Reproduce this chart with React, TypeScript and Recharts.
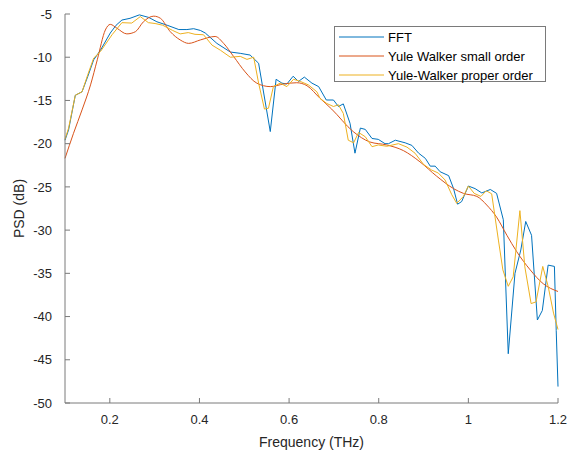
import React from "react";
import {
  LineChart, Line, XAxis, YAxis, Legend, Label,
} from "recharts";

// frequency (THz) / PSD (dB) pairs
const fftFreq = [
  0.1, 0.108, 0.123, 0.138, 0.151, 0.164, 0.179, 0.201, 0.214, 0.227, 0.245, 0.266, 0.287,
  0.305, 0.328, 0.354, 0.372, 0.387, 0.402, 0.413, 0.439, 0.469, 0.491, 0.513, 0.532, 0.558,
  0.571, 0.584, 0.595, 0.609, 0.621, 0.634, 0.651, 0.666, 0.683, 0.699, 0.71, 0.721, 0.736,
  0.747, 0.759, 0.77, 0.785, 0.799, 0.814, 0.822, 0.837, 0.859, 0.874, 0.889, 0.904, 0.915,
  0.926, 0.937, 0.956, 0.967, 0.976, 0.985, 1.0, 1.015, 1.03, 1.049, 1.063, 1.078, 1.089,
  1.104, 1.117, 1.128, 1.141, 1.154, 1.165, 1.178, 1.192, 1.196, 1.2,
];
const fftPsd = [
  -19.6, -18.4, -14.4, -14.0, -12.2, -10.3, -9.2, -7.2, -6.3, -5.7, -5.5, -5.1, -5.4,
  -5.9, -6.3, -6.8, -6.8, -6.7, -6.9, -7.2, -8.4, -9.4, -9.55, -9.75, -10.7, -18.6,
  -12.55, -13.0, -13.1, -12.2, -12.8, -12.3, -13.0, -13.4, -14.95, -14.95, -15.7, -15.4, -17.65,
  -21.1, -18.2, -18.35, -19.4, -19.5, -20.0, -20.0, -19.6, -19.9, -20.2, -21.1, -21.7, -22.6,
  -22.6, -23.25, -23.7, -25.2, -27.0, -26.7, -24.9, -25.2, -25.7, -25.3, -25.75, -28.8, -44.3,
  -35.0, -32.3, -29.0, -30.6, -40.4, -39.3, -34.05, -34.2, -41.6, -48.1,
];

const ywSmallFreq = [
  0.1, 0.119, 0.138, 0.157, 0.172, 0.19, 0.201, 0.216, 0.238, 0.257, 0.275, 0.298, 0.313,
  0.335, 0.357, 0.376, 0.402, 0.435, 0.454, 0.476, 0.502, 0.528, 0.558, 0.588, 0.617, 0.64,
  0.669, 0.695, 0.743, 0.78, 0.818, 0.855, 0.892, 0.929, 0.967, 0.989, 1.019, 1.041, 1.063,
  1.086, 1.108, 1.138, 1.167, 1.2,
];
const ywSmallPsd = [
  -21.7, -18.8, -16.1, -13.2, -10.3, -6.85, -6.2, -6.65, -7.3, -7.05, -5.9, -5.25, -5.5,
  -7.05, -8.0, -8.4, -8.0, -7.6, -8.4, -9.9, -11.7, -13.0, -13.4, -13.1, -12.95, -13.3,
  -14.75, -16.0, -18.6, -19.8, -20.15, -20.8, -22.1, -23.75, -25.2, -25.75, -26.1, -27.1, -28.5,
  -30.6, -32.5, -34.6, -36.2, -37.1,
];

const ywProperFreq = [
  0.1, 0.108, 0.123, 0.138, 0.151, 0.164, 0.179, 0.205, 0.227, 0.249, 0.268, 0.286, 0.301,
  0.318, 0.34, 0.357, 0.375, 0.39, 0.409, 0.428, 0.447, 0.469, 0.491, 0.506, 0.521, 0.532,
  0.545, 0.554, 0.565, 0.58, 0.595, 0.61, 0.625, 0.643, 0.662, 0.669, 0.684, 0.699, 0.71,
  0.721, 0.732, 0.744, 0.755, 0.77, 0.785, 0.799, 0.818, 0.844, 0.863, 0.881, 0.9, 0.918,
  0.933, 0.948, 0.963, 0.974, 0.989, 1.0, 1.013, 1.028, 1.04, 1.052, 1.067, 1.077, 1.089,
  1.1, 1.115, 1.126, 1.14, 1.151, 1.166, 1.178, 1.19, 1.2,
];
const ywProperPsd = [
  -19.5, -18.2, -14.4, -14.0, -12.0, -10.1, -9.35, -7.4, -6.0, -6.05, -5.3, -6.0, -6.1,
  -6.3, -6.9, -7.3, -7.15, -7.35, -7.4, -8.6, -9.2, -10.0, -9.9, -10.25, -10.0, -13.0,
  -16.0, -15.9, -13.4, -13.0, -13.4, -12.55, -12.8, -13.2, -14.0, -14.75, -15.35, -15.7, -15.5,
  -16.5, -19.6, -19.9, -18.7, -19.2, -20.35, -20.15, -20.3, -20.0, -20.4, -21.1, -22.4, -23.05,
  -23.4, -24.2, -25.9, -26.9, -26.1, -24.9, -25.75, -26.1, -25.45, -25.8, -31.15, -34.6, -36.5,
  -35.4, -27.75, -34.25, -38.5, -38.3, -34.2, -36.5, -39.6, -41.5,
];

const xTicks = [0.2, 0.4, 0.6, 0.8, 1, 1.2];
const yTicks = [-50, -45, -40, -35, -30, -25, -20, -15, -10, -5];

const toPoints = (f: number[], p: number[]) => f.map((x, i) => ({ f: x, psd: p[i] }));

const fftData = toPoints(fftFreq, fftPsd);
const ywSmallData = toPoints(ywSmallFreq, ywSmallPsd);
const ywProperData = toPoints(ywProperFreq, ywProperPsd);

const SERIES = [
  { name: "FFT", data: fftData, color: "#0072BD", type: "linear" as const },
  { name: "Yule Walker small order", data: ywSmallData, color: "#D95319", type: "monotone" as const },
  { name: "Yule-Walker proper order", data: ywProperData, color: "#EDB120", type: "linear" as const },
];

const AXIS = "#7a7a7a";
const TEXT = "#262626";
const FONT = "Arial, 'Liberation Sans', sans-serif";

function LegendBox() {
  return (
    <div
      style={{
        width: 210, height: 54, border: `1px solid ${AXIS}`, background: "#fff",
        fontFamily: FONT, fontSize: 13, color: "#000", boxSizing: "content-box",
      }}
    >
      {SERIES.map((s, i) => (
        <div key={s.name} style={{ position: "absolute", left: 0, top: 3 + i * 19, height: 16, display: "flex", alignItems: "center" }}>
          <svg width={54} height={16}>
            <line x1={5} x2={50} y1={8} y2={8} stroke={s.color} strokeWidth={1} />
          </svg>
          <span style={{ whiteSpace: "nowrap" }}>{s.name}</span>
        </div>
      ))}
    </div>
  );
}

export default function App() {
  const tickStyle = { fontSize: 13, fill: TEXT, fontFamily: FONT };
  return (
    <div style={{ position: "absolute", left: 0, top: 0, background: "#fff" }}>
      <LineChart
        width={569}
        height={452}
        margin={{ top: 14, right: 11, bottom: 0, left: 0 }}
        style={{ fontFamily: FONT }}
      >
        <XAxis
          dataKey="f" type="number" domain={[0.1, 1.2]} ticks={xTicks} allowDuplicatedCategory={false}
          height={49} stroke={AXIS} tickSize={-5} tickMargin={17} tick={tickStyle}
          tickFormatter={(v) => String(v)}
        >
          <Label
            value="Frequency (THz)" position="insideBottom" offset={5}
            style={{ fontSize: 14, fill: TEXT, fontFamily: FONT }}
          />
        </XAxis>
        <XAxis
          xAxisId="top" orientation="top" dataKey="f" type="number" domain={[0.1, 1.2]}
          ticks={xTicks} height={0} stroke={AXIS} tickSize={-5} tick={false}
        />
        <YAxis
          type="number" domain={[-50, -5]} ticks={yTicks} width={65} stroke={AXIS}
          tickSize={-5} tickMargin={18} tick={tickStyle}
          label={({ viewBox }: any) => {
            const cx = viewBox.x + 19;
            const cy = viewBox.y + viewBox.height / 2;
            return (
              <text
                x={cx} y={cy} transform={`rotate(-90 ${cx} ${cy})`} textAnchor="middle"
                dominantBaseline="central" fontSize={14} fill={TEXT} fontFamily={FONT}
              >
                PSD (dB)
              </text>
            );
          }}
        />
        <YAxis
          yAxisId="right" orientation="right" type="number" domain={[-50, -5]} ticks={yTicks}
          width={0} stroke={AXIS} tickSize={-5} tick={false}
        />
        <Legend
          layout="horizontal" verticalAlign="middle" align="center"
          wrapperStyle={{ left: 334, top: 26, width: 212, height: 56 }}
          content={() => <LegendBox />}
        />
        {SERIES.map((s) => (
          <Line
            key={s.name}
            data={s.data}
            dataKey="psd"
            name={s.name}
            type={s.type}
            stroke={s.color}
            strokeWidth={1}
            dot={false}
            activeDot={false}
            isAnimationActive={false}
          />
        ))}
      </LineChart>
    </div>
  );
}
